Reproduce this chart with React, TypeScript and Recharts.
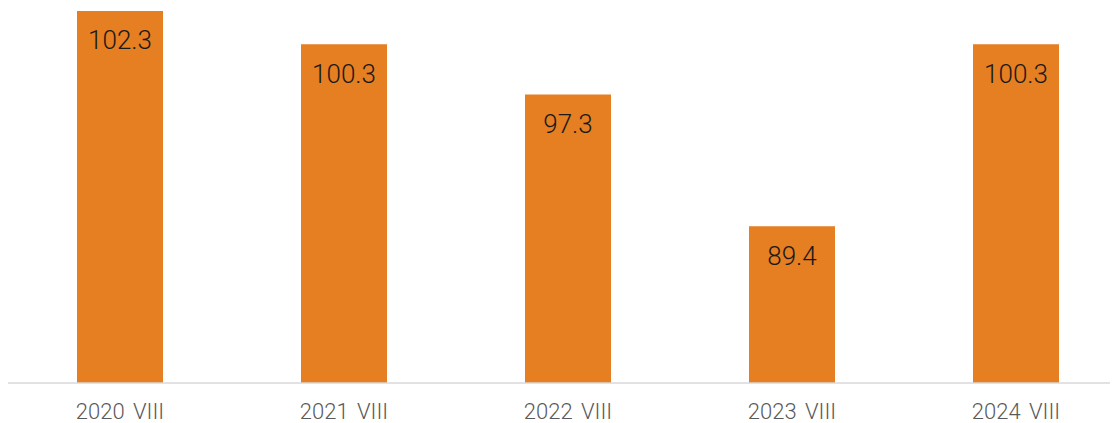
import React from 'react';
import { BarChart, Bar, XAxis, YAxis, LabelList } from 'recharts';

const categories = ['2020 VIII', '2021 VIII', '2022 VIII', '2023 VIII', '2024 VIII'];
const values = [102.3, 100.3, 97.3, 89.4, 100.3];

const data = categories.map((name, i) => ({ name, value: values[i] }));

export default function App() {
  return (
    <div style={{ width: 1110, height: 415, overflow: 'hidden' }}>
      <BarChart
        width={1120}
        height={415}
        data={data}
        margin={{ top: 3, right: 0, left: 0, bottom: 0 }}
        barSize={86}
      >
        <XAxis
          dataKey="name"
          height={40}
          axisLine={{ stroke: '#d9d9d9', strokeWidth: 1.5 }}
          tickLine={false}
          tickSize={0}
          tickMargin={20}
          tick={{ fontSize: 22, fill: '#595959', fontFamily: 'Roboto', fontWeight: 300, wordSpacing: 3 }}
        />
        <YAxis hide domain={[80, 102.3]} allowDataOverflow />
        <Bar dataKey="value" fill="#E67E22" isAnimationActive={false}>
          <LabelList
            dataKey="value"
            position="insideTop"
            offset={20}
            style={{ fontSize: 26, fill: '#1a1a1a', fontFamily: 'Roboto', fontWeight: 300 }}
          />
        </Bar>
      </BarChart>
    </div>
  );
}
